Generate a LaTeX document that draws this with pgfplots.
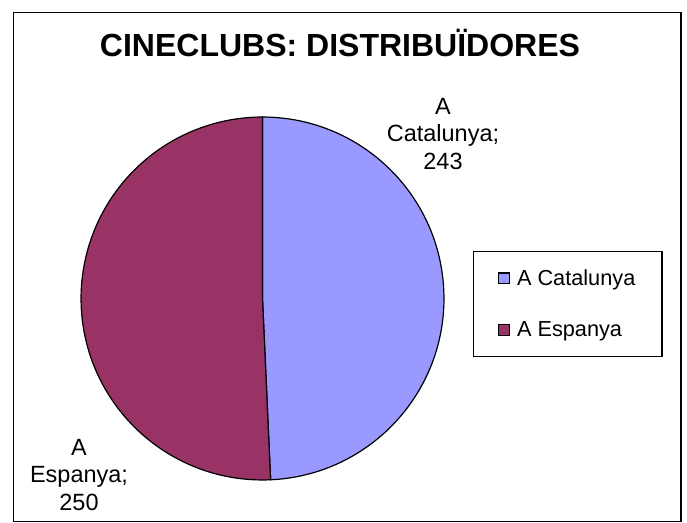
\documentclass[border=0pt]{standalone}
\usepackage{fontspec}
\setmainfont{Liberation Sans}
\usepackage{pgfplots}
\usepackage{pgfplotstable}
\pgfplotsset{compat=1.18}
\definecolor{cCat}{HTML}{9999FF}
\definecolor{cEsp}{HTML}{993366}

% distribuidores dels cineclubs
\pgfplotstableread{
label value
Catalunya 243
Espanya 250
}\piedata
\pgfplotstablegetelem{0}{value}\of\piedata \let\vCat\pgfplotsretval
\pgfplotstablegetelem{1}{value}\of\piedata \let\vEsp\pgfplotsretval
\pgfmathsetmacro{\aSplit}{90-360*(\vCat/(\vCat+\vEsp))}
\newcommand{\pieR}{136.1pt}

\begin{document}
\begin{tikzpicture}
\begin{axis}[
  hide axis, scale only axis,
  width=515.25pt, height=392.25pt,
  xmin=0, xmax=687, ymin=0, ymax=523, y dir=reverse,
  clip=false,
  legend style={
    at={(axis cs:473,251)}, anchor=north west,
    draw=black, line width=0.9pt,
    font=\fontsize{16.3}{18.5}\selectfont,
    inner xsep=18pt, inner ysep=11.5pt,
    row sep=21.5pt, column sep=3.5pt,
    nodes={inner sep=2pt},
    legend cell align=left,
  },
  legend image code/.code={\draw[#1] (0pt,-4.1pt) rectangle (8.25pt,4.1pt);},
]
\fill[white] (axis cs:0,0) rectangle (axis cs:687,523);
\draw[line width=1.1pt] (axis cs:13.5,12.5) rectangle (axis cs:681,521.5);
\node[font=\fontsize{24}{28}\selectfont\bfseries, anchor=base, inner sep=0pt]
  at (axis cs:340,57) {CINECLUBS: DISTRIBUÏDORES};

\filldraw[fill=cCat, draw=black, line width=0.9pt] (axis cs:262.5,298.5) -- ++(90:\pieR)
  arc[start angle=90, end angle=\aSplit, radius=\pieR] -- cycle;
\filldraw[fill=cEsp, draw=black, line width=0.9pt] (axis cs:262.5,298.5) -- ++(\aSplit:\pieR)
  arc[start angle=\aSplit, end angle=-270, radius=\pieR] -- cycle;

\node[font=\fontsize{17.6}{20.6}\selectfont, align=center, anchor=north, inner sep=0pt]
  at (axis cs:443,98) {A\\Catalunya;\\\vCat};
\node[font=\fontsize{17.6}{20.6}\selectfont, align=center, anchor=north, inner sep=0pt]
  at (axis cs:79,439) {A\\Espanya;\\\vEsp};

\addlegendimage{fill=cCat, draw=black, line width=0.8pt}
\addlegendentry{A Catalunya}
\addlegendimage{fill=cEsp, draw=black, line width=0.8pt}
\addlegendentry{A Espanya}
\end{axis}
\end{tikzpicture}
\end{document}
